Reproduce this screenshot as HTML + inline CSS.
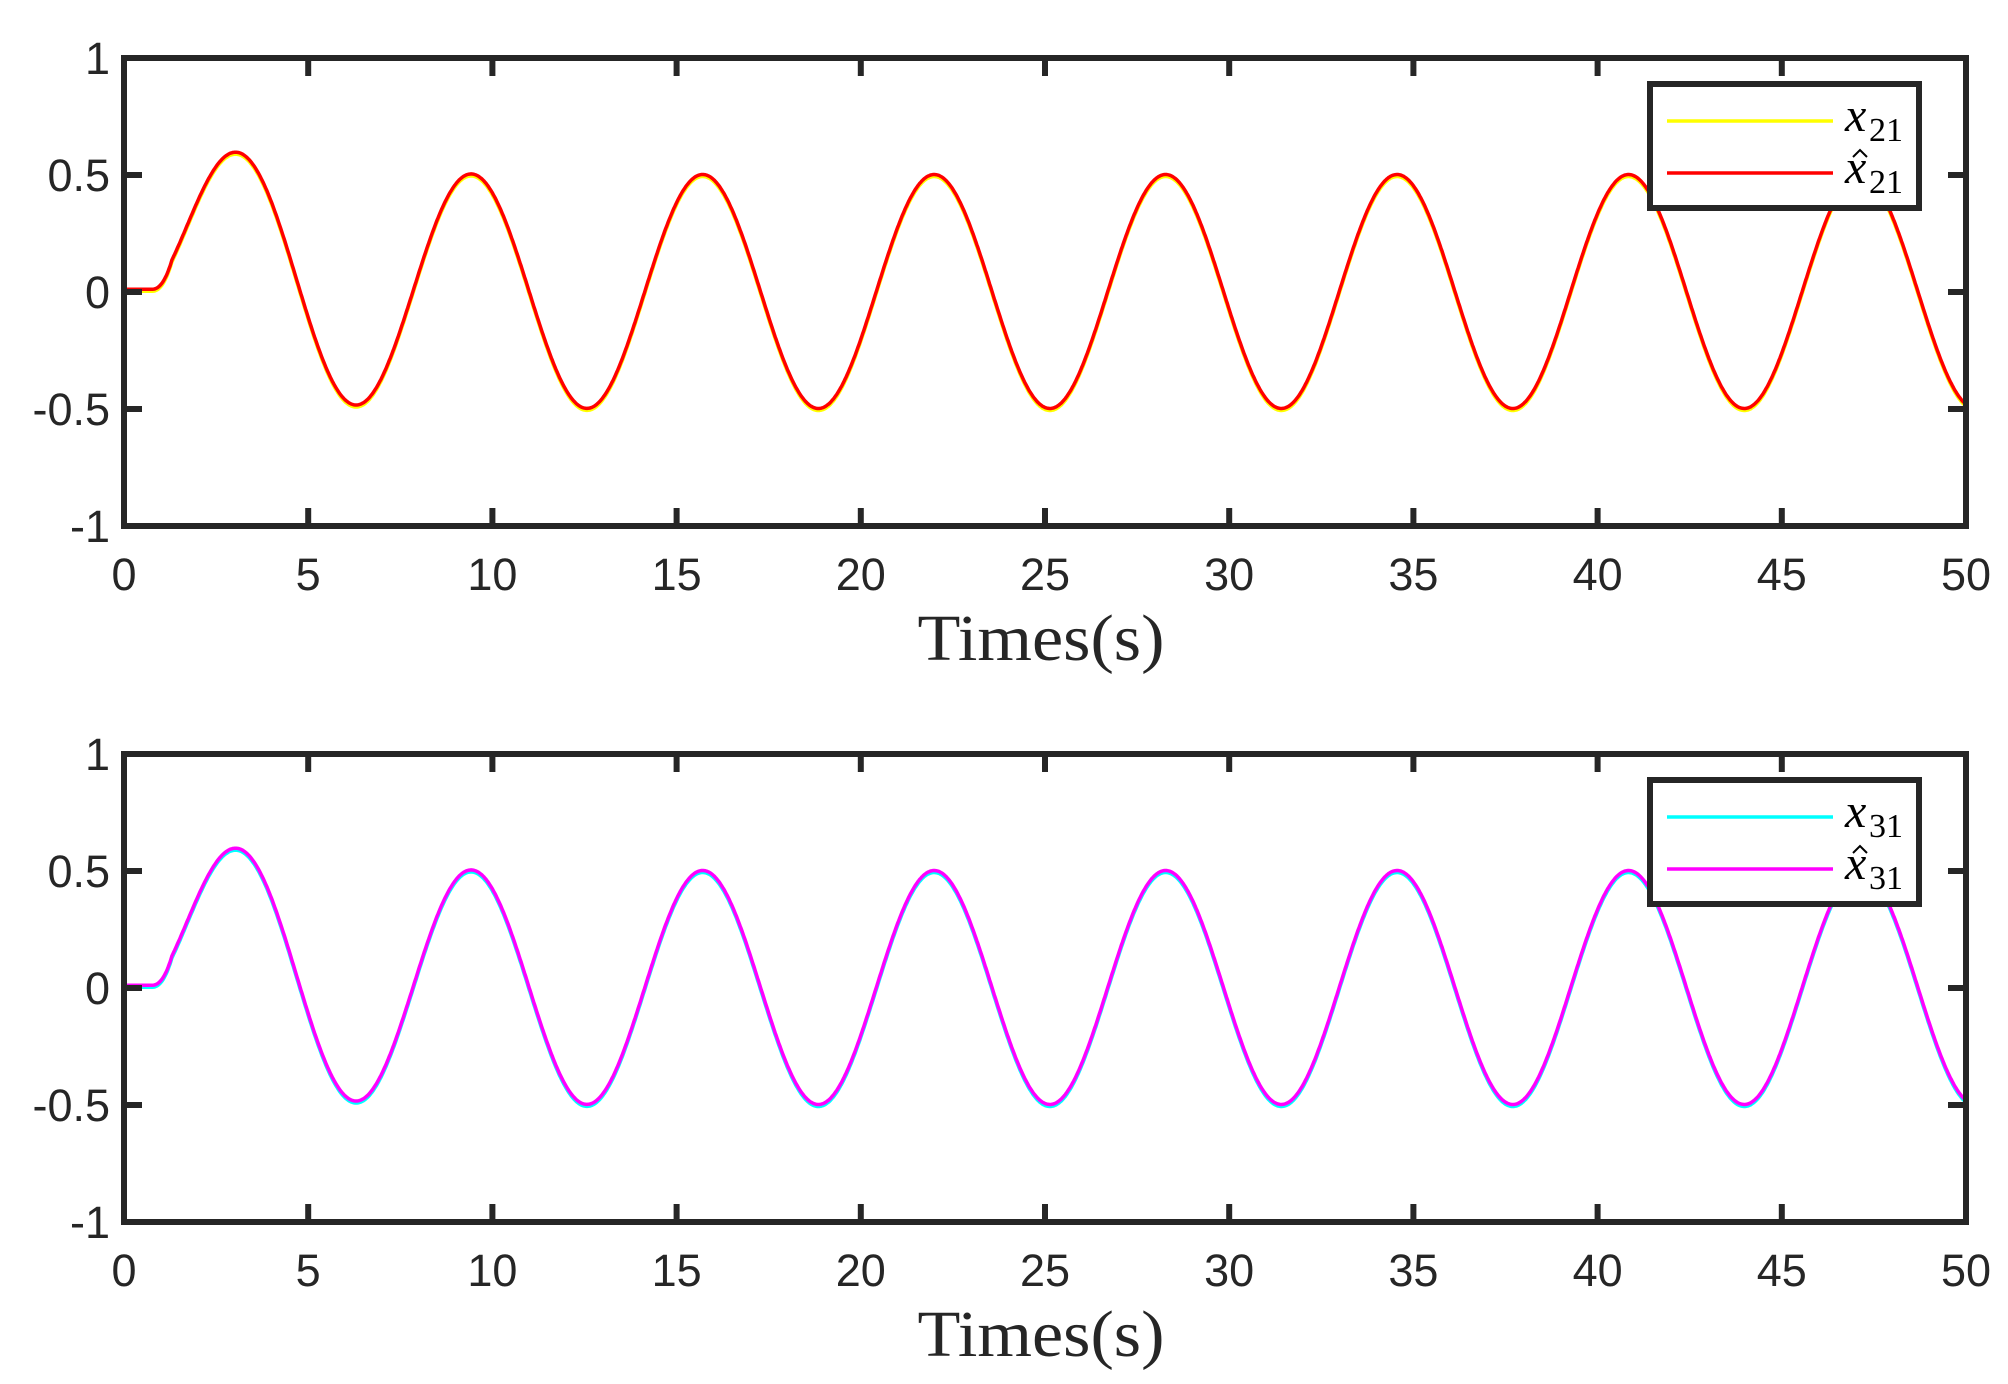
<!DOCTYPE html>
<html><head><meta charset="utf-8"><style>
html,body{margin:0;padding:0;background:#fff;}
svg{display:block;}
.tk{font-family:"Liberation Sans",sans-serif;font-size:45px;fill:#262626;}
.lab{font-family:"Liberation Serif",serif;font-size:66px;fill:#262626;}
.mx{font-family:"Liberation Serif",serif;font-style:italic;font-size:48px;fill:#000;}
.ms{font-family:"Liberation Serif",serif;font-size:34px;fill:#000;}
</style></head><body>
<svg id="s" width="2008" height="1384" viewBox="0 0 2008 1384" xmlns="http://www.w3.org/2000/svg">
<g id="g"></g>
</svg>
<script>
var NS="http://www.w3.org/2000/svg",g=document.getElementById('g');
function el(t,a,txt){var e=document.createElementNS(NS,t);for(var k in a)e.setAttribute(k,a[k]);if(txt!==undefined)e.textContent=txt;g.appendChild(e);return e;}
var L=124,R=1966;
function f(t){if(t<0.7)return 0.01;var tr=0.38*Math.exp(-0.58*(t-0.7));var b=-0.5*Math.cos(t)+tr;
 var s=Math.min(1,(t-0.7)/0.6);return 0.01*(1-s)+b*s;}
function panel(T,c1,c2,sub){
 var B=T+468,H=468;
 function X(t){return L+(R-L)*t/50;} function Y(v){return T+H*(1-v)/2;}
 var p1="",p2="";
 for(var i=0;i<=2000;i++){var t=i*50/2000;var v=f(t);
  p1+=(i?"L":"M")+X(t).toFixed(1)+","+(Y(v)+1.5).toFixed(1);
  p2+=(i?"L":"M")+X(t).toFixed(1)+","+(Y(v)-0.5).toFixed(1);}
 el('path',{d:p1,fill:'none',stroke:c1,'stroke-width':3.5});
 el('path',{d:p2,fill:'none',stroke:c2,'stroke-width':3.5});
 el('rect',{x:L,y:T,width:R-L,height:H,fill:'none',stroke:'#262626','stroke-width':6});
 for(var k=0;k<=10;k++){var x=X(k*5);
  el('line',{x1:x,y1:T,x2:x,y2:T+18,stroke:'#262626','stroke-width':6});
  el('line',{x1:x,y1:B,x2:x,y2:B-18,stroke:'#262626','stroke-width':6});
  el('text',{x:x,y:B+64,'text-anchor':'middle','class':'tk'},String(k*5));}
 var yl=["1","0.5","0","-0.5","-1"];
 for(var k=0;k<5;k++){var y=T+k*H/4;
  el('line',{x1:L,y1:y,x2:L+18,y2:y,stroke:'#262626','stroke-width':6});
  el('line',{x1:R,y1:y,x2:R-18,y2:y,stroke:'#262626','stroke-width':6});
  el('text',{x:110,y:y+16,'text-anchor':'end','class':'tk'},yl[k]);}
 el('text',{x:1041,y:B+134,'text-anchor':'middle','class':'lab',textLength:247,lengthAdjust:'spacingAndGlyphs'},"Times(s)");
 var ly=T+26;
 el('rect',{x:1650,y:ly,width:269,height:124,fill:'#fff',stroke:'#262626','stroke-width':6});
 el('line',{x1:1667,y1:ly+37,x2:1833,y2:ly+37,stroke:c1,'stroke-width':3.5});
 el('line',{x1:1667,y1:ly+89,x2:1833,y2:ly+89,stroke:c2,'stroke-width':3.5});
 el('text',{x:1845,y:ly+47,'class':'mx'},"x");
 el('text',{x:1869,y:ly+57,'class':'ms'},sub);
 el('text',{x:1845,y:ly+99,'class':'mx'},"x");
 el('path',{d:"M1853,"+(ly+73)+" L1860,"+(ly+66)+" L1867,"+(ly+73),fill:'none',stroke:'#000','stroke-width':2});
 el('text',{x:1869,y:ly+109,'class':'ms'},sub);
}
panel(58,'#ffff00','#ff0000','21');
panel(754,'#00ffff','#ff00ff','31');
</script>
</body></html>
